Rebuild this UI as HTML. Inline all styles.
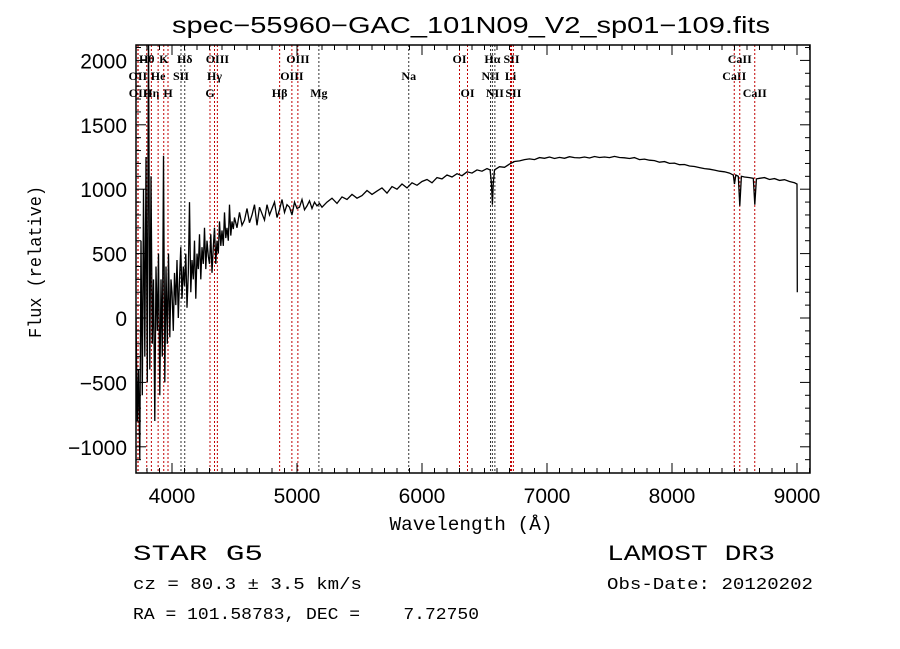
<!DOCTYPE html>
<html><head><meta charset="utf-8"><style>
body{margin:0;background:#fff}
svg{display:block}
</style></head><body>
<svg id="chart" width="900" height="649" viewBox="0 0 900 649" xmlns="http://www.w3.org/2000/svg">
<rect width="900" height="649" fill="#fff"/>
<defs><clipPath id="pc"><rect x="136" y="45" width="674" height="428"/></clipPath></defs>
<text x="471" y="33" text-anchor="middle" font-family="Liberation Sans, sans-serif" font-size="23" textLength="598" lengthAdjust="spacingAndGlyphs">spec−55960−GAC_101N09_V2_sp01−109.fits</text>
<g id="lines"></g>
<g id="spec" clip-path="url(#pc)"></g>
<g id="axes"></g>
<text x="471" y="530" text-anchor="middle" font-family="Liberation Mono, monospace" font-size="19" textLength="163" lengthAdjust="spacingAndGlyphs">Wavelength (Å)</text>
<text transform="translate(41,262) rotate(-90)" text-anchor="middle" font-family="Liberation Mono, monospace" font-size="18" textLength="152" lengthAdjust="spacingAndGlyphs">Flux (relative)</text>
<text x="133" y="560" font-family="Liberation Mono, monospace" font-size="22" textLength="130" lengthAdjust="spacingAndGlyphs">STAR   G5</text>
<text x="607" y="560" font-family="Liberation Mono, monospace" font-size="22" textLength="168" lengthAdjust="spacingAndGlyphs">LAMOST DR3</text>
<text x="133" y="589" font-family="Liberation Mono, monospace" font-size="17" textLength="229" lengthAdjust="spacingAndGlyphs">cz = 80.3 ± 3.5 km/s</text>
<text x="607" y="589" font-family="Liberation Mono, monospace" font-size="17" textLength="206" lengthAdjust="spacingAndGlyphs">Obs-Date: 20120202</text>
<text x="133" y="619" font-family="Liberation Mono, monospace" font-size="17" textLength="346" lengthAdjust="spacingAndGlyphs" xml:space="preserve">RA = 101.58783, DEC =    7.72750</text>
</svg>
<script>
const wavelengths=[3712,3722,3732,3742,3752,3762,3772,3782,3792,3802,3812,3822,3832,3842,3852,3862,3872,3882,3892,3902,3912,3922,3932,3942,3952,3962,3972,3982,3992,
4000,4010,4020,4030,4040,4050,4060,4070,4080,4090,4100,4110,4120,4130,4140,4150,4160,4170,4180,4190,4200,4210,4220,4230,4240,4250,4260,4270,4280,4290,4300,4310,4320,4330,4340,4350,4360,4370,4380,4390,4400,4410,4420,4430,4440,4450,4460,4470,4480,4490,
4500,4520,4540,4560,4580,4600,4620,4640,4660,4680,4700,4720,4740,4760,4780,4800,4820,4840,4860,4880,4900,4920,4940,4960,4980,5000,5020,5040,5060,5080,5100,5120,5140,5160,5180,5200,
5240,5280,5320,5360,5400,5440,5480,5520,5560,5600,5640,5680,5720,5760,5800,5840,5880,5920,5960,6000,6040,6080,6120,6160,6200,6240,6280,6320,6360,6400,6440,6480,6520,6545,6555,6563,6570,6580,6620,6660,6700,6740,6780,6820,6860,6900,6940,6980,7020,7060,7100,7140,7180,7220,7260,7300,7340,7380,7420,7460,7500,7540,7580,7620,7660,7700,7740,7780,7820,7860,7900,7940,7980,8020,8060,8100,8140,8180,8220,8260,8300,8340,8380,8420,8460,8490,8500,8510,8530,8542,8555,8580,8620,8650,8662,8675,8700,8740,8780,8820,8860,8900,8940,8980,9000,9002];
const fluxValues=[0,-800,-400,-1100,600,-600,1000,-300,1250,-500,2300,-400,1100,-200,300,-800,400,-100,500,-600,300,-300,1260,-500,400,-200,500,-150,300,
200,-100,350,100,450,0,300,550,150,400,250,500,80,350,900,200,450,300,600,150,500,380,650,300,550,420,700,380,600,480,420,650,350,550,700,420,600,500,750,560,680,560,820,620,700,600,880,640,750,690,
780,700,820,720,760,850,740,800,880,720,860,810,760,880,800,850,900,780,840,920,820,880,860,800,900,850,860,920,840,870,910,850,900,870,890,860,
900,930,890,940,920,960,930,950,990,960,985,1010,970,1020,1000,1040,1010,1050,1030,1060,1075,1050,1090,1080,1110,1095,1120,1105,1135,1125,1150,1140,1160,1150,1050,880,1050,1150,1175,1170,1195,1215,1220,1230,1235,1230,1245,1240,1250,1238,1247,1240,1252,1245,1243,1250,1242,1254,1246,1250,1245,1255,1246,1244,1238,1245,1230,1234,1225,1222,1210,1214,1200,1203,1190,1192,1180,1176,1168,1160,1155,1148,1140,1135,1125,1110,1040,1110,1100,870,1100,1095,1090,1085,880,1080,1085,1090,1075,1082,1068,1074,1060,1050,1040,200];
const lineNames=["OII","OII","Hθ","Hη","He","K","H","SII","Hδ","G","Hγ","OIII","Hβ","OIII","OIII","Mg","Na","OI","OI","NII","Hα","NII","Li","SII","SII","CaII","CaII","CaII"];
const lineWaves=[3727,3729,3798,3835,3889,3934,3968,4072,4102,4304,4340,4363,4861,4959,5007,5175,5894,6300,6364,6548,6563,6583,6708,6716,6731,8498,8542,8662];
const lineRows=[1,2,0,2,1,0,2,1,0,2,1,0,2,1,0,2,1,0,2,1,0,2,1,0,2,1,0,2];
const lineBlack=[0,0,0,0,0,0,0,1,1,0,0,0,0,0,0,1,1,0,0,1,1,1,0,0,0,0,0,0];
const xTicks=[4000,5000,6000,7000,8000,9000];
const yTicks=[-1000,-500,0,500,1000,1500,2000];
const NS="http://www.w3.org/2000/svg";
const X0=136,X1=810,Y0=45,Y1=473;
function xs(w){return 172+(w-4000)*0.125;}
function ys(f){return 318-f*0.1288;}
function mk(t,a,p){const e=document.createElementNS(NS,t);for(const k in a)e.setAttribute(k,a[k]);p.appendChild(e);return e;}
const gl=document.getElementById('lines');
const rowY=[63,80,97];
for(let i=0;i<lineWaves.length;i++){
  const x=xs(lineWaves[i]);
  const c=lineBlack[i]?'#333':'#c00000';
  const l=mk('line',{x1:x,x2:x,y1:Y0,y2:Y1,stroke:c,'stroke-width':1,'stroke-dasharray':'2,2'},gl);
  
  
  const t=mk('text',{x:x,y:rowY[lineRows[i]],'text-anchor':'middle','font-family':'Liberation Serif, serif','font-size':12,'font-weight':'bold',fill:'#000'},gl);
  t.textContent=lineNames[i];
  
  
}
const gs=document.getElementById('spec');
let d='';
for(let i=0;i<wavelengths.length;i++){d+=(i?'L':'M')+xs(wavelengths[i]).toFixed(1)+','+ys(fluxValues[i]).toFixed(1);}
const p=mk('path',{d:d,fill:'none',stroke:'#000','stroke-width':1.3,'stroke-linejoin':'miter'},gs);


const ga=document.getElementById('axes');
const fr=mk('rect',{x:X0,y:Y0,width:X1-X0,height:Y1-Y0,fill:'none',stroke:'#000','stroke-width':1.5},ga);


for(let w=3800;w<=9100;w+=100){
  const x=xs(w);if(x<X0||x>X1)continue;
  const L=(w%1000===0)?10:5;
  mk('line',{x1:x,x2:x,y1:Y1,y2:Y1-L,stroke:'#000'},ga);
  mk('line',{x1:x,x2:x,y1:Y0,y2:Y0+L,stroke:'#000'},ga);
}
for(let f=-1100;f<=2100;f+=100){
  const y=ys(f);if(y<Y0||y>Y1)continue;
  const L=(f%500===0)?10:5;
  mk('line',{x1:X0,x2:X0+L,y1:y,y2:y,stroke:'#000'},ga);
  mk('line',{x1:X1,x2:X1-L,y1:y,y2:y,stroke:'#000'},ga);
}
for(const w of xTicks){
  const t=mk('text',{x:xs(w),y:503,'text-anchor':'middle','font-family':'Liberation Sans, sans-serif','font-size':21},ga);
  t.textContent=String(w);
  
  
}
for(const f of yTicks){
  const t=mk('text',{x:127,y:ys(f)+8,'text-anchor':'end','font-family':'Liberation Sans, sans-serif','font-size':21},ga);
  t.textContent=(f<0?'−':'')+Math.abs(f);
  
  
}
</script>
</body></html>
